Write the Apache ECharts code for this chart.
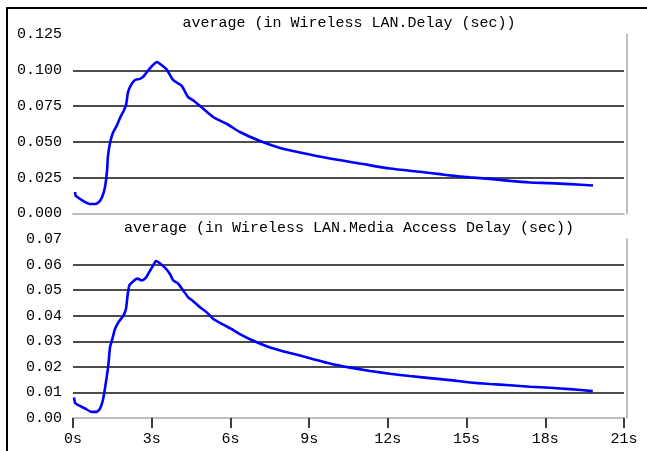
<!DOCTYPE html>
<html><head><meta charset="utf-8">
<script src="https://cdn.jsdelivr.net/npm/echarts@6/dist/echarts.min.js"></script>
<style>
html,body{margin:0;padding:0;background:#fff;}
#frame{position:absolute;left:6px;top:7px;width:641px;height:444px;border-top:2px solid #000;border-left:2px solid #000;box-sizing:border-box;}
#chart{position:absolute;left:0;top:0;width:647px;height:451px;}
</style></head>
<body><div id="frame"></div><div id="chart"></div>
<script>
// Titles
var titleDelay = 'average (in Wireless LAN.Delay (sec))';
var titleMac = 'average (in Wireless LAN.Media Access Delay (sec))';

// X tick labels (seconds)
var xTicks = [0, 3, 6, 9, 12, 15, 18, 21];

// Wireless LAN.Delay (sec)
var delayTime = [0.08, 0.1, 0.27, 0.46, 0.65, 0.84, 0.99, 1.11, 1.22, 1.30, 1.33, 1.41, 1.52, 1.68, 1.79, 1.91, 2.02, 2.10, 2.21, 2.36, 2.55, 2.67, 2.82, 3.01, 3.20, 3.32, 3.58, 3.81, 4.15, 4.38, 4.61, 4.84, 5.34, 5.87, 6.36, 7.13, 7.89, 8.65, 9.79, 10.94, 12.08, 13.22, 13.99, 14.37, 15.13, 15.89, 16.65, 17.42, 18.18, 18.94, 19.82];
var delayValue = [0.0150, 0.0126, 0.0101, 0.0080, 0.0066, 0.0066, 0.0080, 0.0115, 0.0185, 0.0304, 0.0395, 0.0492, 0.0562, 0.0618, 0.0667, 0.0709, 0.0758, 0.0849, 0.0897, 0.0932, 0.0940, 0.0954, 0.0988, 0.1030, 0.1058, 0.1044, 0.1003, 0.0933, 0.0890, 0.0814, 0.0786, 0.0751, 0.0674, 0.0625, 0.0569, 0.0506, 0.0458, 0.0426, 0.0384, 0.0349, 0.0314, 0.0291, 0.0275, 0.0266, 0.0252, 0.0242, 0.0228, 0.0217, 0.0212, 0.0205, 0.0196];

// Wireless LAN.Media Access Delay (sec)
var macTime = [0.04, 0.08, 0.2, 0.46, 0.71, 0.90, 1.03, 1.13, 1.19, 1.28, 1.35, 1.41, 1.51, 1.60, 1.73, 1.92, 2.02, 2.08, 2.15, 2.30, 2.45, 2.62, 2.78, 2.93, 3.06, 3.16, 3.32, 3.54, 3.70, 3.82, 4.01, 4.20, 4.39, 4.58, 4.84, 5.10, 5.35, 5.73, 6.11, 6.36, 6.87, 7.51, 8.27, 9.03, 9.79, 10.56, 11.32, 12.08, 12.84, 13.61, 14.37, 15.13, 15.89, 16.65, 17.42, 18.18, 18.94, 19.81];
var macValue = [0.0081, 0.0059, 0.0050, 0.0037, 0.0024, 0.0024, 0.0037, 0.0066, 0.0098, 0.0157, 0.0210, 0.0276, 0.0313, 0.0348, 0.0374, 0.0400, 0.0427, 0.0479, 0.0519, 0.0535, 0.0545, 0.0538, 0.0549, 0.0575, 0.0597, 0.0614, 0.0604, 0.0584, 0.0562, 0.0538, 0.0525, 0.0499, 0.0472, 0.0457, 0.0433, 0.0413, 0.0387, 0.0365, 0.0344, 0.0328, 0.0302, 0.0276, 0.0254, 0.0234, 0.0213, 0.0197, 0.0184, 0.0173, 0.0164, 0.0156, 0.0148, 0.0139, 0.0133, 0.0128, 0.0122, 0.0118, 0.0113, 0.0105];

function pairs(xs, ys) { return xs.map(function (x, i) { return [x, ys[i]]; }); }

var FONT = 'Liberation Mono';
var chart = echarts.init(document.getElementById('chart'), null, { renderer: 'canvas' });

function xAxisDef(grid, showLabels) {
  return {
    type: 'value', gridIndex: grid, min: xTicks[0], max: xTicks[xTicks.length - 1], interval: 3,
    axisLine: { show: true, lineStyle: { color: '#a8a8a8', width: 1.5 } },
    axisTick: { show: showLabels, length: 10, lineStyle: { color: '#000', width: 1.5 } },
    axisLabel: { show: showLabels, formatter: '{value}s', fontFamily: FONT, fontSize: 15, color: '#000', margin: 14 },
    splitLine: { show: false }
  };
}
function yAxisDef(grid, max, interval, digits) {
  return {
    type: 'value', gridIndex: grid, min: 0, max: max, interval: interval,
    axisLine: { show: false }, axisTick: { show: false },
    axisLabel: { formatter: function (v) { return v.toFixed(digits); }, fontFamily: FONT, fontSize: 15, color: '#000', margin: 11 },
    splitLine: { show: true, showMinLine: false, showMaxLine: false, lineStyle: { color: '#111', width: 1.5 } }
  };
}
function yRightDef(grid, max) {
  return {
    type: 'value', gridIndex: grid, min: 0, max: max, position: 'right', offset: 3,
    axisLine: { show: true, lineStyle: { color: '#a8a8a8', width: 1.5 } },
    axisTick: { show: false }, axisLabel: { show: false }, splitLine: { show: false }
  };
}

chart.setOption({
  animation: false,
  backgroundColor: 'transparent',
  title: [
    { text: titleDelay, left: 349, top: 16, textAlign: 'center', padding: 0,
      textStyle: { fontFamily: FONT, fontSize: 15, fontWeight: 'normal', color: '#000' } },
    { text: titleMac, left: 349, top: 221, textAlign: 'center', padding: 0,
      textStyle: { fontFamily: FONT, fontSize: 15, fontWeight: 'normal', color: '#000' } }
  ],
  grid: [
    { left: 73, right: 23, top: 34.5, height: 179 },
    { left: 73, right: 23, top: 239, height: 179 }
  ],
  xAxis: [xAxisDef(0, false), xAxisDef(1, true)],
  yAxis: [yAxisDef(0, 0.125, 0.025, 3), yRightDef(0, 0.125), yAxisDef(1, 0.07, 0.01, 2), yRightDef(1, 0.07)],
  series: [
    { type: 'line', xAxisIndex: 0, yAxisIndex: 0, data: pairs(delayTime, delayValue), showSymbol: false,
      smooth: 0.2, lineStyle: { color: '#0000ff', width: 2.6 }, itemStyle: { color: '#0000ff' } },
    { type: 'line', xAxisIndex: 1, yAxisIndex: 2, data: pairs(macTime, macValue), showSymbol: false,
      smooth: 0.2, lineStyle: { color: '#0000ff', width: 2.6 }, itemStyle: { color: '#0000ff' } }
  ]
});
</script>
</body></html>
